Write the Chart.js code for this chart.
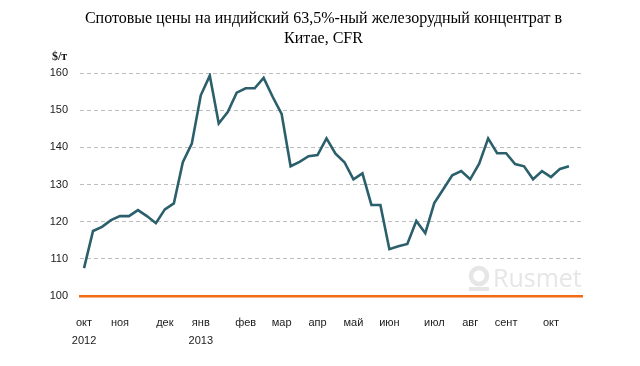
<!DOCTYPE html>
<html>
<head>
<meta charset="utf-8">
<script src="https://cdn.jsdelivr.net/npm/chart.js@4.4.1/dist/chart.umd.min.js"></script>
<style>
  html, body { margin: 0; padding: 0; background: #fff; }
  #wrap { width: 640px; height: 366px; position: relative; }
</style>
</head>
<body>
<div id="wrap"><canvas id="c" width="640" height="366"></canvas></div>
<script>
// ---- data ----
const titleLines = ['Спотовые цены на индийский 63,5%-ный железорудный концентрат в', 'Китае, CFR'];
const unitLabel = '$/т';
const prices = [
  107.5, 117.5, 118.6, 120.4, 121.5, 121.5, 123.1, 121.5, 119.6, 123.3,
  124.9, 136.0, 141.0, 154.0, 159.3, 146.4, 149.5, 154.7, 155.9, 155.9,
  158.7, 153.6, 149.0, 134.9, 136.1, 137.6, 137.9, 142.4, 138.3, 136.0,
  131.4, 133.0, 124.5, 124.5, 112.6, 113.4, 114.0, 120.2, 116.9, 125.0,
  128.7, 132.5, 133.6, 131.4, 135.6, 142.4, 138.4, 138.4, 135.5, 134.9,
  131.4, 133.6, 132.0, 134.2, 134.9
];
const monthLabels = ['окт','ноя','дек','янв','фев','мар','апр','май','июн','июл','авг','сент','окт'];
const yearLabels  = ['2012','','','2013','','','','','','','','',''];
const monthWeekIndex = [0, 4, 9, 13, 18, 22, 26, 30, 34, 39, 43, 47, 52];
const yTicks = [100, 110, 120, 130, 140, 150, 160];

// ---- build ----
const points = prices.map((v, i) => ({ x: i, y: v }));

const decorPlugin = {
  id: 'decor',
  beforeDatasetsDraw(chart) {
    const ctx = chart.ctx;
    ctx.save();
    // watermark
    ctx.fillStyle = '#e6e6e6';
    ctx.strokeStyle = '#e6e6e6';
    ctx.lineWidth = 4.5;
    ctx.beginPath();
    ctx.arc(479, 276, 8, 0, Math.PI * 2);
    ctx.stroke();
    ctx.fillRect(469, 287, 20, 4);
    ctx.font = '25px "Open Sans", "Liberation Sans", sans-serif';
    ctx.textBaseline = 'alphabetic';
    ctx.textAlign = 'left';
    ctx.fillText('Rusmet', 493, 287);
    ctx.restore();
  },
  afterDraw(chart) {
    const ctx = chart.ctx;
    ctx.save();
    ctx.fillStyle = '#1a1a1a';
    ctx.font = 'bold 12px "Liberation Serif", serif';
    ctx.textBaseline = 'middle';
    ctx.textAlign = 'left';
    ctx.fillText(unitLabel, 52, 57);
    ctx.restore();
  }
};

new Chart(document.getElementById('c'), {
  type: 'line',
  data: {
    datasets: [{
      data: points,
      borderColor: '#2a5f6b',
      borderWidth: 2.6,
      pointRadius: 0,
      tension: 0,
      fill: false,
      xAxisID: 'x',
      yAxisID: 'y'
    }]
  },
  options: {
    responsive: false,
    animation: false,
    devicePixelRatio: 1,
    layout: { padding: { left: 7, right: 0, top: 0, bottom: 0 } },
    plugins: {
      legend: { display: false },
      tooltip: { enabled: false },
      title: {
        display: true,
        text: titleLines,
        color: '#000',
        font: { family: '"Liberation Serif", serif', size: 16, weight: 'normal', lineHeight: 1.25 },
        padding: { top: 9, bottom: 24 }
      }
    },
    scales: {
      x: {
        type: 'linear',
        min: -0.45,
        max: 55.45,
        grid: { display: false, drawTicks: false },
        border: { display: true, color: '#f26a12', width: 2.5 },
        afterBuildTicks(scale) {
          scale.ticks = monthWeekIndex.map(v => ({ value: v }));
        },
        afterFit(scale) { scale.height = 70; },
        ticks: {
          autoSkip: false,
          maxRotation: 0,
          padding: 18,
          color: '#1a1a1a',
          font: { family: '"Liberation Sans", sans-serif', size: 11, lineHeight: 1.65 },
          callback(value) {
            const k = monthWeekIndex.indexOf(value);
            if (k < 0) return '';
            return yearLabels[k] ? [monthLabels[k], yearLabels[k]] : monthLabels[k];
          }
        }
      },
      y: {
        min: 100,
        max: 160,
        afterBuildTicks(scale) {
          scale.ticks = yTicks.map(v => ({ value: v }));
        },
        afterFit(scale) { scale.width = 73; },
        grid: {
          drawTicks: false,
          color: (c) => (c.tick && c.tick.value === 100) ? 'rgba(0,0,0,0)' : '#bdbdbd',
          lineWidth: 1
        },
        border: { display: false, dash: [4, 3] },
        ticks: {
          padding: 12,
          color: '#1a1a1a',
          font: { family: '"Liberation Sans", sans-serif', size: 11 }
        }
      },
      spacer: {
        type: 'linear',
        position: 'right',
        display: true,
        min: 0,
        max: 1,
        afterFit(scale) { scale.width = 58; },
        grid: { display: false, drawTicks: false },
        border: { display: false },
        ticks: { display: false }
      }
    }
  },
  plugins: [decorPlugin]
});
</script>
</body>
</html>
